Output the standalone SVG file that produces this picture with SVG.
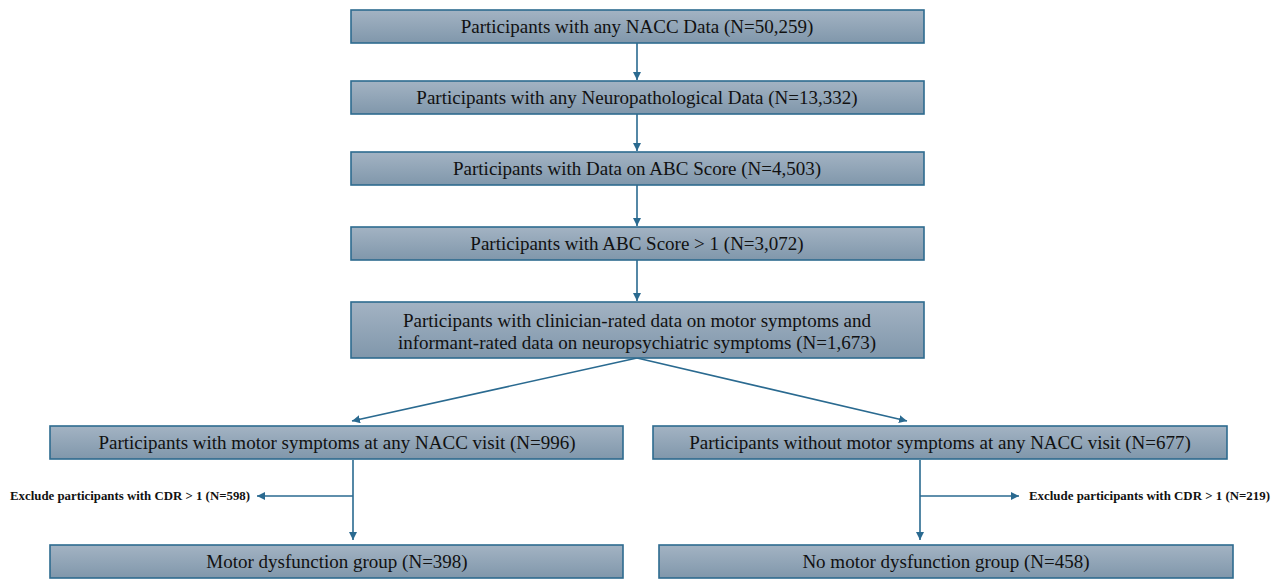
<svg xmlns="http://www.w3.org/2000/svg" width="1277" height="579" viewBox="0 0 1277 579">
<defs>
<linearGradient id="g" x1="0" y1="0" x2="0" y2="1">
<stop offset="0" stop-color="#a3b3c3"/>
<stop offset="1" stop-color="#8097ab"/>
</linearGradient>
<marker id="ah" viewBox="0 0 10 10" refX="10" refY="5" markerWidth="8" markerHeight="8" markerUnits="userSpaceOnUse" orient="auto">
<path d="M0,0 L10,5 L0,10 Z" fill="#2a6a90"/>
</marker>
</defs>
<style>
.box{fill:url(#g);stroke:#2d6b8f;stroke-width:1.6}
.t{font-family:'Liberation Serif',serif;font-size:19px;fill:#111;text-anchor:middle}
.x{font-family:'Liberation Serif',serif;font-size:12px;font-weight:bold;fill:#111}
.c{stroke:#2a6a90;stroke-width:1.6;fill:none}
</style>
<rect width="1277" height="579" fill="#fff"/>
<g id="connectors">
<line class="c" x1="637" y1="43" x2="637" y2="80" marker-end="url(#ah)"/>
<line class="c" x1="637" y1="114" x2="637" y2="151" marker-end="url(#ah)"/>
<line class="c" x1="637" y1="185" x2="637" y2="226" marker-end="url(#ah)"/>
<line class="c" x1="637" y1="260" x2="637" y2="301" marker-end="url(#ah)"/>
<line class="c" x1="637" y1="358" x2="352" y2="421" marker-end="url(#ah)"/>
<line class="c" x1="637" y1="358" x2="907" y2="421" marker-end="url(#ah)"/>
<line class="c" x1="353" y1="460" x2="353" y2="540" marker-end="url(#ah)"/>
<line class="c" x1="353" y1="496" x2="257" y2="496" marker-end="url(#ah)"/>
<line class="c" x1="920" y1="460" x2="920" y2="540" marker-end="url(#ah)"/>
<line class="c" x1="920" y1="496" x2="1019" y2="496" marker-end="url(#ah)"/>
</g>
<g id="n1"><rect class="box" x="351" y="10" width="573" height="33"/><text class="t" x="637" y="33">Participants with any NACC Data (N=50,259)</text></g>
<g id="n2"><rect class="box" x="351" y="81" width="573" height="33"/><text class="t" x="637" y="104">Participants with any Neuropathological Data (N=13,332)</text></g>
<g id="n3"><rect class="box" x="351" y="152" width="573" height="33"/><text class="t" x="637" y="175">Participants with Data on ABC Score (N=4,503)</text></g>
<g id="n4"><rect class="box" x="351" y="227" width="573" height="33"/><text class="t" x="637" y="250">Participants with ABC Score &gt; 1 (N=3,072)</text></g>
<g id="n5"><rect class="box" x="351" y="302" width="573" height="56"/><text class="t" x="637" y="327">Participants with clinician-rated data on motor symptoms and</text><text class="t" x="637" y="349">informant-rated data on neuropsychiatric symptoms (N=1,673)</text></g>
<g id="n6"><rect class="box" x="50" y="426" width="573" height="33"/><text class="t" x="337" y="449">Participants with motor symptoms at any NACC visit (N=996)</text></g>
<g id="n7"><rect class="box" x="653" y="426" width="574" height="33"/><text class="t" x="940" y="449">Participants without motor symptoms at any NACC visit (N=677)</text></g>
<g id="n8"><rect class="box" x="50" y="545" width="573" height="33"/><text class="t" x="337" y="568">Motor dysfunction group (N=398)</text></g>
<g id="n9"><rect class="box" x="659" y="545" width="574" height="33"/><text class="t" x="946" y="568">No motor dysfunction group (N=458)</text></g>
<g id="e1"><text class="x" x="10" y="500" textLength="240" lengthAdjust="spacingAndGlyphs">Exclude participants with CDR &gt; 1 (N=598)</text></g>
<g id="e2"><text class="x" x="1029" y="500" textLength="241" lengthAdjust="spacingAndGlyphs">Exclude participants with CDR &gt; 1 (N=219)</text></g>
</svg>
